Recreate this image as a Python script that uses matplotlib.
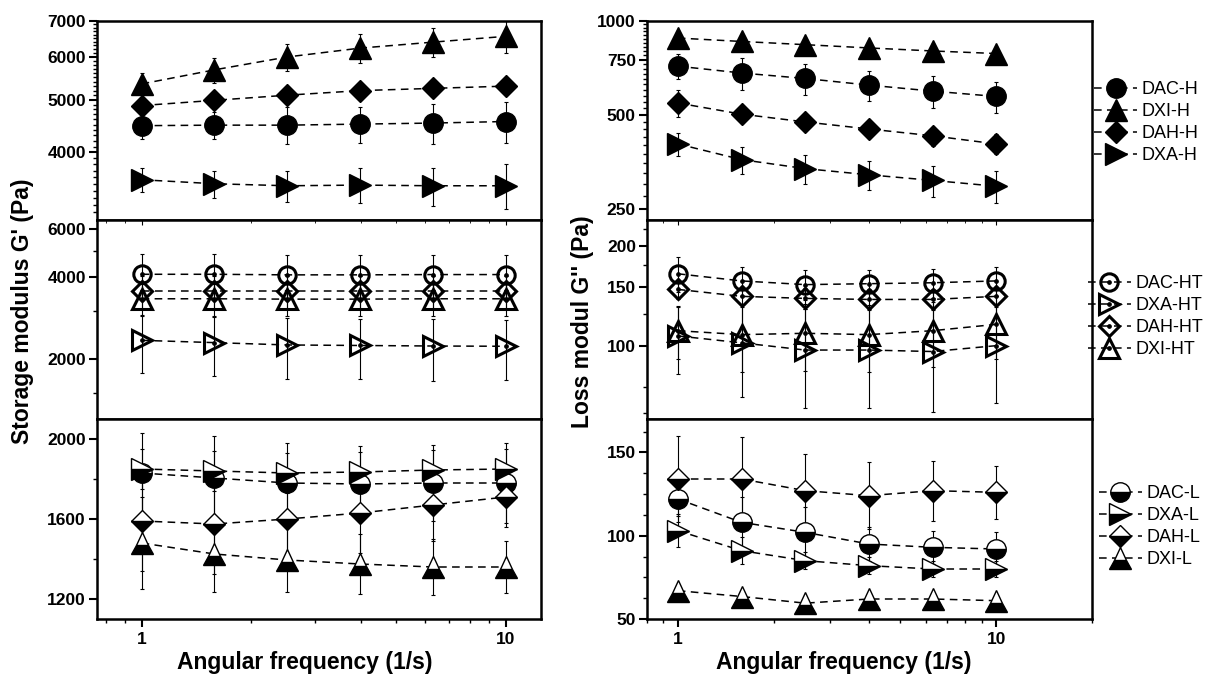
import matplotlib
matplotlib.use('Agg')
import matplotlib.pyplot as plt
from matplotlib.lines import Line2D
from matplotlib.ticker import FixedLocator, NullFormatter, FuncFormatter, LogLocator, MultipleLocator

plt.rcParams['font.family'] = ['Liberation Sans', 'DejaVu Sans']

# ---------------- data ----------------
freq = [1.0, 1.585, 2.512, 3.981, 6.310, 10.0]

# Storage modulus G' (Pa) - H series
DAC_H_G1 = [4480, 4490, 4490, 4510, 4530, 4560]
DAC_H_G1_err = [250, 260, 350, 350, 380, 400]
DXI_H_G1 = [5350, 5680, 6000, 6230, 6390, 6550]
DXI_H_G1_err = [250, 300, 350, 380, 400, 450]
DAH_H_G1 = [4880, 4990, 5100, 5200, 5250, 5300]
DAH_H_G1_err = [100, 100, 120, 120, 150, 150]
DXA_H_G1 = [3560, 3500, 3470, 3480, 3470, 3470]
DXA_H_G1_err = [180, 200, 230, 260, 280, 330]

# Storage modulus G' (Pa) - HT series
DAC_HT_G1 = [4100, 4100, 4080, 4080, 4090, 4090]
DAC_HT_G1_err = [780, 760, 740, 740, 750, 750]
DXA_HT_G1 = [2340, 2295, 2250, 2240, 2230, 2225]
DXA_HT_G1_err = [560, 560, 570, 560, 570, 560]
DAH_HT_G1 = [3550, 3550, 3550, 3550, 3550, 3550]
DAH_HT_G1_err = [500, 500, 500, 500, 500, 500]
DXI_HT_G1 = [3330, 3330, 3320, 3320, 3330, 3330]
DXI_HT_G1_err = [450, 450, 450, 450, 450, 450]

# Storage modulus G' (Pa) - L series
DAC_L_G1 = [1830, 1805, 1780, 1775, 1780, 1780]
DAC_L_G1_err = [200, 210, 200, 190, 190, 200]
DXA_L_G1 = [1850, 1840, 1830, 1835, 1845, 1850]
DXA_L_G1_err = [100, 100, 100, 100, 100, 100]
DAH_L_G1 = [1590, 1575, 1600, 1630, 1670, 1710]
DAH_L_G1_err = [250, 250, 200, 200, 180, 150]
DXI_L_G1 = [1480, 1425, 1395, 1375, 1360, 1360]
DXI_L_G1_err = [230, 190, 160, 150, 140, 130]

# Loss modulus G'' (Pa) - H series
DAC_H_G2 = [715, 680, 653, 622, 595, 572]
DAC_H_G2_err = [65, 80, 75, 70, 70, 65]
DXI_H_G2 = [880, 858, 838, 818, 800, 785]
DXI_H_G2_err = [50, 40, 40, 40, 40, 40]
DAH_H_G2 = [545, 502, 474, 450, 428, 403]
DAH_H_G2_err = [55, 30, 30, 30, 30, 30]
DXA_H_G2 = [403, 359, 336, 321, 308, 295]
DXA_H_G2_err = [35, 35, 35, 35, 35, 35]

# Loss modulus G'' (Pa) - HT series
DAC_HT_G2 = [165, 157, 153, 154, 155, 157]
DAC_HT_G2_err = [20, 16, 16, 16, 16, 16]
DXA_HT_G2 = [107, 102, 97, 97, 96, 100]
DXA_HT_G2_err = [25, 32, 32, 32, 33, 33]
DAH_HT_G2 = [148, 141, 139, 138, 138, 141]
DAH_HT_G2_err = [10, 10, 10, 10, 10, 10]
DXI_HT_G2 = [111, 108, 109, 108, 111, 116]
DXI_HT_G2_err = [20, 25, 25, 25, 25, 25]

# Loss modulus G'' (Pa) - L series
DAC_L_G2 = [122, 108, 102, 95, 93, 92]
DAC_L_G2_err = [10, 15, 15, 10, 10, 10]
DXA_L_G2 = [103, 91, 85, 82, 80, 80]
DXA_L_G2_err = [10, 8, 5, 5, 5, 5]
DAH_L_G2 = [134, 134, 127, 124, 127, 126]
DAH_L_G2_err = [26, 25, 22, 20, 18, 16]
DXI_L_G2 = [67, 63.5, 59.5, 62, 62, 61]
DXI_L_G2_err = [3, 3, 3, 3, 3, 3]

x_label = 'Angular frequency (1/s)'
y_label_left = "Storage modulus G' (Pa)"
y_label_right = "Loss modul G'' (Pa)"

# ---------------- styles ----------------
markers = {'DAC': 'o', 'DXI': '^', 'DAH': 'D', 'DXA': '>'}
msize = {'o': 14, '^': 15.5, 'D': 11.5, '>': 15.5}

def style(name, group):
    m = markers[name]
    if group == 'H':
        return dict(marker=m, ms=msize[m], mfc='k', mec='k', mew=1)
    if group == 'HT':
        return dict(marker=m, ms=msize[m] - 1.5, mfc='none', mec='k', mew=2.2)
    return dict(marker=m, ms=msize[m], mfc='k', mec='k', mew=1.0,
                fillstyle='bottom', markerfacecoloralt='white')

DASH = (0, (5, 3.5))

fig = plt.figure(figsize=(12.06, 6.75), dpi=100)
W, H = 1206, 675

def axes_px(x0, x1, y0, y1):
    return fig.add_axes([x0 / W, 1 - y1 / H, (x1 - x0) / W, (y1 - y0) / H])

col_x = [(97, 541), (647, 1092)]
row_y = [(20.7, 220), (220, 419), (419, 619)]

panels = [
    # left column
    [dict(series=[('DAC', 'H', DAC_H_G1, DAC_H_G1_err), ('DXI', 'H', DXI_H_G1, DXI_H_G1_err),
                  ('DAH', 'H', DAH_H_G1, DAH_H_G1_err), ('DXA', 'H', DXA_H_G1, DXA_H_G1_err)],
          scale='log', ylim=(3000, 7000), major=[4000, 5000, 6000, 7000],
          minor=[v for v in range(3100, 7000, 100) if v % 1000]),
     dict(series=[('DAC', 'HT', DAC_HT_G1, DAC_HT_G1_err), ('DXA', 'HT', DXA_HT_G1, DXA_HT_G1_err),
                  ('DAH', 'HT', DAH_HT_G1, DAH_HT_G1_err), ('DXI', 'HT', DXI_HT_G1, DXI_HT_G1_err)],
          scale='log', ylim=(1200, 6500), major=[2000, 4000, 6000], minor=[1500, 3000, 5000]),
     dict(series=[('DAC', 'L', DAC_L_G1, DAC_L_G1_err), ('DXA', 'L', DXA_L_G1, DXA_L_G1_err),
                  ('DAH', 'L', DAH_L_G1, DAH_L_G1_err), ('DXI', 'L', DXI_L_G1, DXI_L_G1_err)],
          scale='linear', ylim=(1100, 2100), major=[1200, 1600, 2000], minor=200)],
    # right column
    [dict(series=[('DAC', 'H', DAC_H_G2, DAC_H_G2_err), ('DXI', 'H', DXI_H_G2, DXI_H_G2_err),
                  ('DAH', 'H', DAH_H_G2, DAH_H_G2_err), ('DXA', 'H', DXA_H_G2, DXA_H_G2_err)],
          scale='log', ylim=(230, 1000), major=[250, 500, 750, 1000],
          minor=[v for v in range(250, 1000, 25) if v % 250]),
     dict(series=[('DAC', 'HT', DAC_HT_G2, DAC_HT_G2_err), ('DXA', 'HT', DXA_HT_G2, DXA_HT_G2_err),
                  ('DAH', 'HT', DAH_HT_G2, DAH_HT_G2_err), ('DXI', 'HT', DXI_HT_G2, DXI_HT_G2_err)],
          scale='log', ylim=(60, 240), major=[100, 150, 200], minor=[62.5, 75, 125, 175, 225]),
     dict(series=[('DAC', 'L', DAC_L_G2, DAC_L_G2_err), ('DXA', 'L', DXA_L_G2, DXA_L_G2_err),
                  ('DAH', 'L', DAH_L_G2, DAH_L_G2_err), ('DXI', 'L', DXI_L_G2, DXI_L_G2_err)],
          scale='linear', ylim=(50, 170), major=[50, 100, 150], minor=12.5)],
]

xlims = [(0.754, 12.5), (0.8, 20)]
legend_pos = [(0.907, 1 - 122.5 / H), (0.902, 1 - 316.5 / H), (0.911, 1 - 526.5 / H)]

for ci, col in enumerate(panels):
    for ri, p in enumerate(col):
        ax = axes_px(col_x[ci][0], col_x[ci][1], row_y[ri][0], row_y[ri][1])
        ax.set_xscale('log')
        ax.set_xlim(*xlims[ci])
        ax.set_yscale(p['scale'])
        ax.set_ylim(*p['ylim'])
        handles, labels = [], []
        for name, grp, vals, err in p['series']:
            ax.errorbar(freq, vals, yerr=err, fmt='none', ecolor='k', elinewidth=0.8,
                        capsize=1.5, capthick=0.8, zorder=2)
            st = style(name, grp)
            ln, = ax.plot(freq, vals, color='k', lw=1.1, ls=DASH, zorder=3, **st)
            if grp == 'HT':
                ax.plot(freq, vals, ls='none', marker='o', ms=2.4, color='k', zorder=4)
                dot = Line2D([], [], ls='none', marker='o', ms=2.4, color='k')
                handles.append((ln, dot))
            else:
                handles.append(ln)
            labels.append(f'{name}-{grp}')
        # y ticks
        ax.yaxis.set_major_locator(FixedLocator(p['major']))
        ax.yaxis.set_major_formatter(FuncFormatter(lambda v, pos: f'{v:g}'))
        if isinstance(p['minor'], list):
            ax.yaxis.set_minor_locator(FixedLocator(p['minor']))
        else:
            ax.yaxis.set_minor_locator(MultipleLocator(p['minor']))
        ax.yaxis.set_minor_formatter(NullFormatter())
        ax.tick_params(axis='y', which='both', direction='out', left=True, right=False)
        ax.tick_params(axis='y', which='major', length=6, width=1.5, labelsize=12.5, pad=2)
        ax.tick_params(axis='y', which='minor', length=3, width=1.0)
        for lab in ax.get_yticklabels():
            lab.set_fontweight('bold')
        # x ticks
        ax.xaxis.set_major_locator(FixedLocator([1, 10]))
        ax.xaxis.set_minor_locator(LogLocator(base=10, subs=[2, 3, 4, 5, 6, 7, 8, 9]))
        ax.xaxis.set_major_formatter(FuncFormatter(lambda v, pos: f'{v:g}'))
        ax.xaxis.set_minor_formatter(NullFormatter())
        if ri == 0:
            ax.tick_params(axis='x', which='both', bottom=False, top=False, labelbottom=False)
        elif ri == 1:
            ax.tick_params(axis='x', which='both', bottom=False, top=True, direction='in',
                           labelbottom=False)
        else:
            ax.tick_params(axis='x', which='both', bottom=True, top=False, labelbottom=True,
                           direction='out')
            ax.tick_params(axis='x', which='major', length=6, width=1.5, labelsize=12.5)
            ax.tick_params(axis='x', which='minor', length=3, width=1.0)
            for lab in ax.get_xticklabels():
                lab.set_fontweight('bold')
        for s in ax.spines.values():
            s.set_linewidth(1.8)
        if ci == 1:
            lx, ly = legend_pos[ri]
            fig.legend(handles, labels, loc='center left', bbox_to_anchor=(lx, ly),
                       frameon=False, fontsize=13, handlelength=2.4, handletextpad=0.25,
                       labelspacing=0.28, borderpad=0, borderaxespad=0)

fig.text(305 / W, 1 - 663 / H, x_label, ha='center', va='center', fontsize=16.5, fontweight='bold')
fig.text(844 / W, 1 - 663 / H, x_label, ha='center', va='center', fontsize=16.5, fontweight='bold')
fig.text(23 / W, 1 - 311 / H, y_label_left, ha='center', va='center', rotation=90,
         fontsize=16.5, fontweight='bold')
fig.text(582 / W, 1 - 322 / H, y_label_right, ha='center', va='center', rotation=90,
         fontsize=16.5, fontweight='bold')

fig.savefig('out.png', dpi=100)
